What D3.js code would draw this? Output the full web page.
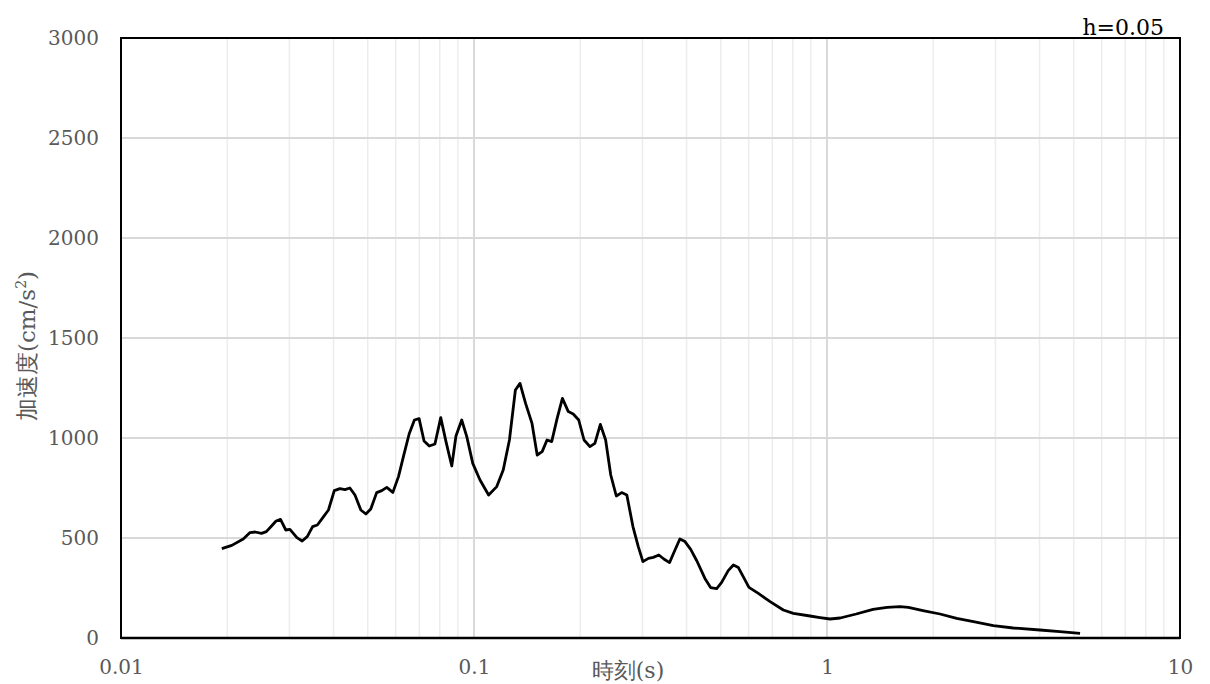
<!DOCTYPE html>
<html>
<head>
<meta charset="utf-8">
<script src="https://cdn.jsdelivr.net/npm/d3@7"></script>
<style>
  html, body { margin: 0; padding: 0; background: #ffffff; }
  svg { display: block; }
</style>
</head>
<body>
<svg id="chart" width="1210" height="684"></svg>
<script>
// ---- data ----
const periods = [0.0193,0.0206,0.0222,0.0232,0.0240,0.0250,0.0258,0.0267,0.0275,0.0283,
  0.0293,0.0301,0.0315,0.0326,0.0337,0.0349,0.0360,0.0373,0.0387,0.0402,
  0.0417,0.0431,0.0445,0.0460,0.0478,0.0494,0.0510,0.0530,0.0548,0.0566,
  0.0589,0.0611,0.0631,0.0655,0.0678,0.0699,0.0722,0.0747,0.0775,0.0805,
  0.0833,0.0865,0.0889,0.0923,0.0954,0.0992,0.104,0.110,0.116,0.121,
  0.126,0.131,0.135,0.140,0.146,0.151,0.156,0.161,0.166,0.172,
  0.178,0.185,0.191,0.198,0.205,0.213,0.220,0.228,0.236,0.244,
  0.253,0.262,0.271,0.282,0.292,0.301,0.312,0.322,0.334,0.345,
  0.358,0.371,0.383,0.396,0.411,0.428,0.451,0.468,0.487,0.503,
  0.525,0.543,0.561,0.579,0.601,0.639,0.690,0.752,0.803,0.895,
  0.955,1.02,1.09,1.21,1.35,1.48,1.61,1.70,1.87,2.09,
  2.33,2.60,2.96,3.37,4.01,4.57,5.21];
const accel = [447,463,495,527,530,523,532,560,585,593,
  540,543,502,485,507,557,565,602,640,737,
  747,742,750,715,640,620,645,727,737,753,
  728,807,907,1020,1090,1097,985,960,970,1102,
  982,860,1010,1090,1007,873,790,715,757,840,
  990,1240,1273,1173,1073,915,932,990,982,1098,
  1198,1132,1120,1090,990,957,973,1068,990,815,
  710,727,715,557,457,382,398,403,415,395,
  377,440,495,482,443,385,298,252,247,278,
  337,365,352,307,253,223,182,140,123,110,
  102,95,100,120,143,153,157,153,137,120,
  98,82,62,50,40,32,23];
const xTicks = [0.01, 0.1, 1, 10];
const xTickLabels = ["0.01", "0.1", "1", "10"];
const yTicks = [0, 500, 1000, 1500, 2000, 2500, 3000];
const xTitle = "時刻(s)";
const yTitle = "加速度(cm/s";
const noteLabel = "h=0.05";

// ---- layout ----
const svg = d3.select("#chart");
const m = { left: 121, right: 1180, top: 38, bottom: 638 };
const font = "'DejaVu Serif', 'Liberation Serif', serif";
const textColor = "#595959";

const x = d3.scaleLog().domain([0.01, 10]).range([m.left, m.right]);
const y = d3.scaleLinear().domain([0, 3000]).range([m.bottom, m.top]);

// minor vertical gridlines (2..9 in each decade)
const minor = [];
for (let d = 0.01; d < 10; d *= 10) {
  for (let k = 2; k <= 9; k++) minor.push(+(d * k).toPrecision(3));
}
svg.append("g").selectAll("line").data(minor).join("line")
  .attr("x1", d => x(d)).attr("x2", d => x(d))
  .attr("y1", m.top).attr("y2", m.bottom)
  .attr("stroke", "#ededed").attr("stroke-width", 1.5);

// major vertical gridlines
svg.append("g").selectAll("line").data(xTicks.slice(1, -1)).join("line")
  .attr("x1", d => x(d)).attr("x2", d => x(d))
  .attr("y1", m.top).attr("y2", m.bottom)
  .attr("stroke", "#d9d9d9").attr("stroke-width", 2);

// horizontal gridlines
svg.append("g").selectAll("line").data(yTicks.slice(1, -1)).join("line")
  .attr("x1", m.left).attr("x2", m.right)
  .attr("y1", d => y(d)).attr("y2", d => y(d))
  .attr("stroke", "#d9d9d9").attr("stroke-width", 2);

// frame
svg.append("rect")
  .attr("x", m.left).attr("y", m.top)
  .attr("width", m.right - m.left).attr("height", m.bottom - m.top)
  .attr("fill", "none").attr("stroke", "#000").attr("stroke-width", 2);
svg.append("line")
  .attr("x1", m.left).attr("x2", m.right)
  .attr("y1", m.bottom).attr("y2", m.bottom)
  .attr("stroke", "#000").attr("stroke-width", 2.5);

// y axis labels
const yAxis = d3.axisLeft(y).tickValues(yTicks).tickSize(0).tickPadding(22)
  .tickFormat(d3.format("d"));
const gy = svg.append("g").attr("transform", `translate(${m.left},0)`).call(yAxis);
gy.select(".domain").remove();
gy.selectAll("text").attr("font-family", font).attr("font-size", 20)
  .attr("fill", textColor);

// x axis labels
const xAxis = d3.axisBottom(x).tickValues(xTicks).tickSize(0).tickPadding(22)
  .tickFormat((d, i) => xTickLabels[i]);
const gx = svg.append("g").attr("transform", `translate(0,${m.bottom})`).call(xAxis);
gx.select(".domain").remove();
gx.selectAll("text").attr("font-family", font).attr("font-size", 20)
  .attr("fill", textColor);

// data line
const line = d3.line().x((d, i) => x(periods[i])).y(d => y(d));
svg.append("path").datum(accel)
  .attr("d", line).attr("fill", "none")
  .attr("stroke", "#000").attr("stroke-width", 2.8)
  .attr("stroke-linejoin", "round");

// axis titles
svg.append("text")
  .attr("x", 628).attr("y", 678)
  .attr("text-anchor", "middle")
  .attr("font-family", font).attr("font-size", 22)
  .attr("fill", textColor).text(xTitle);

const yt = svg.append("text")
  .attr("transform", "translate(35,346) rotate(-90)")
  .attr("text-anchor", "middle")
  .attr("font-family", font).attr("font-size", 23)
  .attr("fill", textColor);
yt.append("tspan").text(yTitle);
yt.append("tspan").attr("dy", -9).attr("font-size", 14).text("2");
yt.append("tspan").attr("dy", 9).text(")");

// note
svg.append("text")
  .attr("x", 1164).attr("y", 35)
  .attr("text-anchor", "end")
  .attr("font-family", font).attr("font-size", 22)
  .attr("fill", "#000").text(noteLabel);
</script>
</body>
</html>
